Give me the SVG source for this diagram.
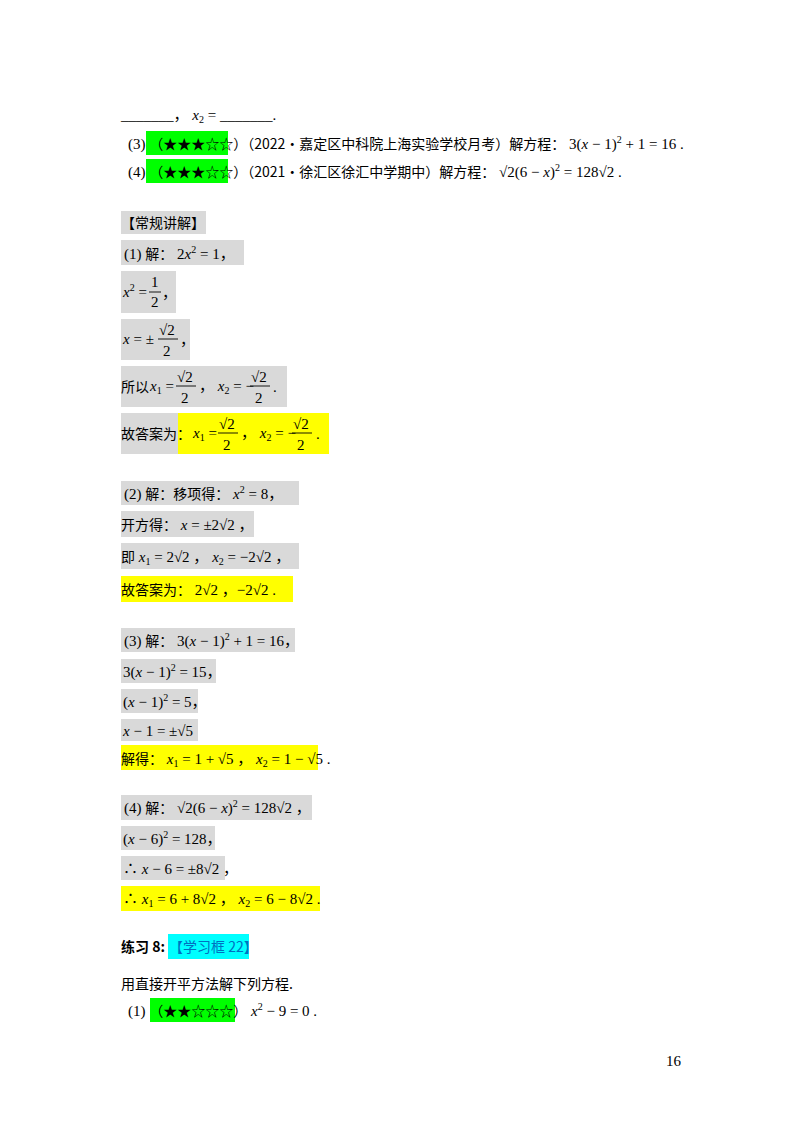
<svg xmlns="http://www.w3.org/2000/svg" width="800" height="1132" viewBox="0 0 800 1132">
<style>
text{font-family:"Liberation Serif","Noto Sans CJK SC",serif;font-size:15px;fill:#000}
.c{font-family:"Noto Sans CJK SC","Liberation Sans",sans-serif;font-size:14px}
.i{font-style:italic}
.s{font-size:10px}
.g{fill:#d9d9d9}.y{fill:#ffff00}.gr{fill:#00ff00}.cy{fill:#00ffff}
.ln{stroke:#000;stroke-width:0.9}
.st{fill:#fff;stroke:#888}
</style>
<rect width="800" height="1132" fill="#fff"/>
<!-- highlight boxes -->
<rect class="gr" x="146" y="131" width="82" height="24"/>
<rect class="gr" x="146" y="159" width="82" height="24"/>
<rect class="g" x="121" y="211" width="85" height="23"/>
<rect class="g" x="121" y="240" width="123" height="25"/>
<rect class="g" x="121" y="271" width="55" height="42"/>
<rect class="g" x="121" y="319" width="69" height="41"/>
<rect class="g" x="121" y="366" width="166" height="41"/>
<rect class="g" x="121" y="413" width="57" height="41"/>
<rect class="y" x="178" y="413" width="151" height="41"/>
<rect class="g" x="121" y="481" width="178" height="24"/>
<rect class="g" x="121" y="511" width="133" height="26"/>
<rect class="g" x="121" y="543" width="178" height="26"/>
<rect class="y" x="121" y="576" width="172" height="26"/>
<rect class="g" x="121" y="628" width="174" height="24"/>
<rect class="g" x="121" y="659" width="95" height="24"/>
<rect class="g" x="121" y="689" width="77" height="24"/>
<rect class="g" x="121" y="719" width="77" height="22"/>
<rect class="y" x="121" y="745" width="197" height="25"/>
<rect class="g" x="121" y="795" width="191" height="25"/>
<rect class="g" x="121" y="826" width="94" height="24"/>
<rect class="g" x="121" y="856" width="104" height="24"/>
<rect class="y" x="121" y="886" width="199" height="25"/>
<rect class="cy" x="168" y="934" width="81" height="25"/>
<rect class="gr" x="150" y="998" width="85" height="24"/>

<!-- top lines -->
<text x="121" y="120">_______，  <tspan class="i">x</tspan><tspan class="s" dy="3">2</tspan><tspan dy="-3"> = _______.</tspan></text>
<text x="128" y="149">(3) <tspan class="c">（★★★☆☆）（2022•嘉定区中科院上海实验学校月考）解方程：</tspan> 3(<tspan class="i">x</tspan> − 1)<tspan class="s" dy="-6">2</tspan><tspan dy="6"> + 1 = 16 .</tspan></text>
<text x="128" y="177">(4) <tspan class="c">（★★★☆☆）（2021•徐汇区徐汇中学期中）解方程：</tspan> √2(6 − <tspan class="i">x</tspan>)<tspan class="s" dy="-6">2</tspan><tspan dy="6"> = 128√2 .</tspan></text>

<text class="c" x="121" y="228">【常规讲解】</text>
<text x="124" y="259">(1) <tspan class="c">解：</tspan> 2<tspan class="i">x</tspan><tspan class="s" dy="-6">2</tspan><tspan dy="6"> = 1，</tspan></text>

<text x="123" y="297"><tspan class="i">x</tspan><tspan class="s" dy="-6">2</tspan><tspan dy="6"> =</tspan></text>
<text x="151" y="287">1</text><line class="ln" x1="149" y1="292" x2="161" y2="292"/><text x="151" y="307">2</text><text x="162" y="298">，</text>

<text x="123" y="344"><tspan class="i">x</tspan> = ±</text>
<text x="159" y="335">√2</text><line class="ln" x1="158" y1="339" x2="178" y2="339"/><text x="163" y="356">2</text><text x="180" y="345">，</text>

<text class="c" x="121" y="392">所以</text><text x="150" y="391"><tspan class="i">x</tspan><tspan class="s" dy="3">1</tspan><tspan dy="-3"> =</tspan></text>
<text x="177" y="382">√2</text><line class="ln" x1="176" y1="386" x2="196" y2="386"/><text x="181" y="403">2</text>
<text x="199" y="391">，  <tspan class="i">x</tspan><tspan class="s" dy="3">2</tspan><tspan dy="-3"> = −</tspan></text>
<text x="251" y="382">√2</text><line class="ln" x1="250" y1="386" x2="270" y2="386"/><text x="255" y="403">2</text><text x="273" y="392">.</text>

<text class="c" x="121" y="439">故答案为：</text><text x="193" y="438"><tspan class="i">x</tspan><tspan class="s" dy="3">1</tspan><tspan dy="-3"> =</tspan></text>
<text x="219" y="429">√2</text><line class="ln" x1="218" y1="433" x2="238" y2="433"/><text x="223" y="450">2</text>
<text x="241" y="438">，  <tspan class="i">x</tspan><tspan class="s" dy="3">2</tspan><tspan dy="-3"> = −</tspan></text>
<text x="293" y="429">√2</text><line class="ln" x1="292" y1="433" x2="312" y2="433"/><text x="297" y="450">2</text><text x="316" y="439">.</text>

<text x="124" y="499">(2) <tspan class="c">解：移项得：</tspan> <tspan class="i">x</tspan><tspan class="s" dy="-6">2</tspan><tspan dy="6"> = 8，</tspan></text>
<text x="121" y="530"><tspan class="c">开方得：</tspan> <tspan class="i">x</tspan> = ±2√2 ，</text>
<text x="121" y="562"><tspan class="c">即</tspan> <tspan class="i">x</tspan><tspan class="s" dy="3">1</tspan><tspan dy="-3"> = 2√2 ，  </tspan><tspan class="i">x</tspan><tspan class="s" dy="3">2</tspan><tspan dy="-3"> = −2√2 ，</tspan></text>
<text x="121" y="595"><tspan class="c">故答案为：</tspan> 2√2 ，−2√2 .</text>

<text x="124" y="646">(3) <tspan class="c">解：</tspan> 3(<tspan class="i">x</tspan> − 1)<tspan class="s" dy="-6">2</tspan><tspan dy="6"> + 1 = 16，</tspan></text>
<text x="123" y="677">3(<tspan class="i">x</tspan> − 1)<tspan class="s" dy="-6">2</tspan><tspan dy="6"> = 15，</tspan></text>
<text x="123" y="707">(<tspan class="i">x</tspan> − 1)<tspan class="s" dy="-6">2</tspan><tspan dy="6"> = 5，</tspan></text>
<text x="123" y="736"><tspan class="i">x</tspan> − 1 = ±√5</text>
<text x="121" y="764"><tspan class="c">解得：</tspan> <tspan class="i">x</tspan><tspan class="s" dy="3">1</tspan><tspan dy="-3"> = 1 + √5 ，  </tspan><tspan class="i">x</tspan><tspan class="s" dy="3">2</tspan><tspan dy="-3"> = 1 − √5 .</tspan></text>

<text x="124" y="813">(4) <tspan class="c">解：</tspan> √2(6 − <tspan class="i">x</tspan>)<tspan class="s" dy="-6">2</tspan><tspan dy="6"> = 128√2 ，</tspan></text>
<text x="123" y="844">(<tspan class="i">x</tspan> − 6)<tspan class="s" dy="-6">2</tspan><tspan dy="6"> = 128，</tspan></text>
<text x="123" y="874">∴ <tspan class="i">x</tspan> − 6 = ±8√2 ，</text>
<text x="123" y="904">∴ <tspan class="i">x</tspan><tspan class="s" dy="3">1</tspan><tspan dy="-3"> = 6 + 8√2 ，  </tspan><tspan class="i">x</tspan><tspan class="s" dy="3">2</tspan><tspan dy="-3"> = 6 − 8√2 .</tspan></text>

<text x="121" y="952"><tspan class="c" font-weight="bold">练习 8:</tspan><tspan class="c" fill="#0070c0" dx="4">【学习框 22】</tspan></text>
<text class="c" x="121" y="989">用直接开平方法解下列方程.</text>
<text x="128" y="1016">(1) <tspan class="c">（★★☆☆☆）</tspan> <tspan class="i">x</tspan><tspan class="s" dy="-6">2</tspan><tspan dy="6"> − 9 = 0 .</tspan></text>

<text x="666" y="1066" font-size="14">16</text>
</svg>
